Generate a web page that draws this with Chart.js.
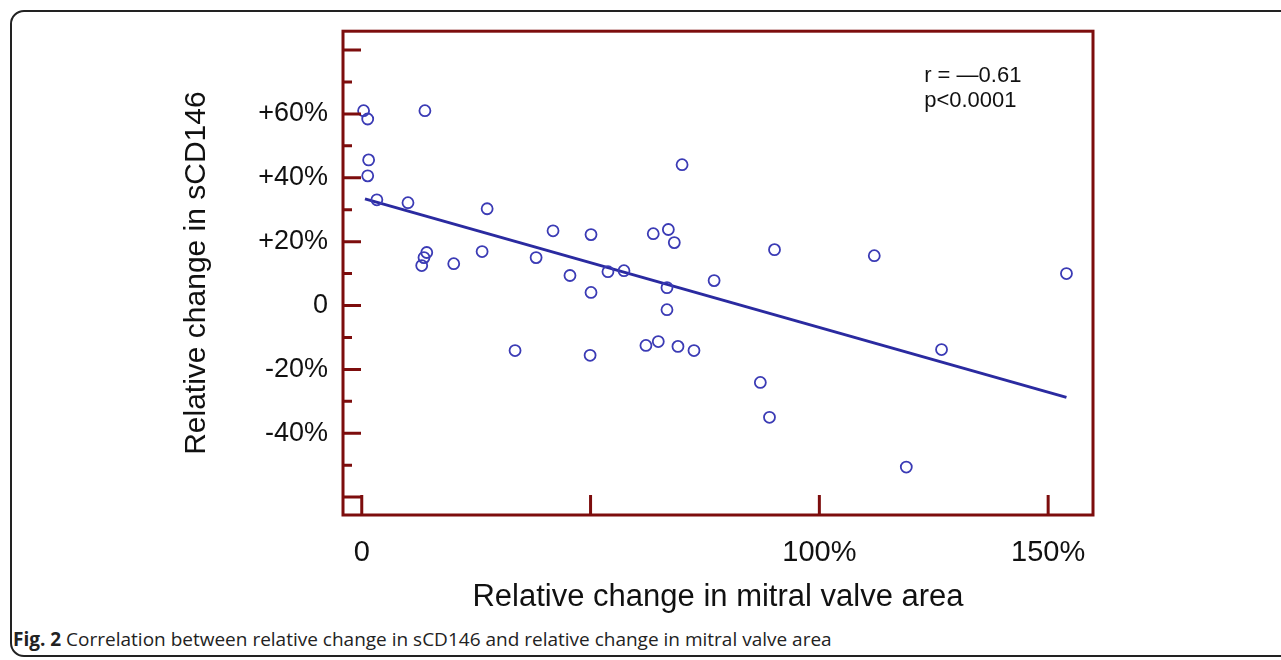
<!DOCTYPE html>
<html>
<head>
<meta charset="utf-8">
<script src="https://cdn.jsdelivr.net/npm/chart.js@4.4.1/dist/chart.umd.min.js"></script>
<style>
  html, body { margin: 0; padding: 0; background: #fff; overflow: hidden; }
  #frame {
    position: absolute; left: 10px; top: 10px; width: 1320px; height: 643px;
    border: 2px solid #222; border-radius: 14px;
  }
  #chartBox { position: absolute; left: 0; top: 0; width: 1281px; height: 620px; }
  #caption {
    position: absolute; left: 13px; top: 626px;
    font-family: "Open Sans", sans-serif; font-size: 19px; color: #222;
  }
</style>
</head>
<body>
<div id="frame"></div>
<div id="chartBox"><canvas id="corrChart" width="1281" height="620"></canvas></div>
<div id="caption"><b>Fig. 2</b> Correlation between relative change in sCD146 and relative change in mitral valve area</div>
<script>
// data (%)
const mvaChange = [0.4, 1.3, 1.5, 1.3, 3.3, 10.1, 13.8, 14.2, 13.6, 13.1, 20.1, 26.3, 27.4, 33.5, 38.1, 41.8, 45.5, 50.1, 50.1, 49.9,
  53.8, 57.3, 62.1, 63.7, 64.8, 67, 66.7, 66.7, 68.3, 69.1, 70, 72.6, 77, 87.1, 89.1, 90.2, 112, 119, 126.7, 154];
const cd146Change = [61, 58.4, 45.6, 40.6, 33.1, 32.2, 61, 16.6, 15, 12.5, 13.1, 16.9, 30.3, -14.1, 15, 23.4, 9.4, 22.2, 4.1, -15.6,
  10.6, 10.9, -12.5, 22.5, -11.3, 23.8, 5.6, -1.3, 19.7, -12.8, 44.1, -14.1, 7.8, -24.1, -35, 17.5, 15.6, -50.6, -13.8, 10];

const fitX = [0.7, 154];
const fitY = [33.4, -28.75];

const xTickValues = [0, 50, 100, 150];
const xTickLabels = ["0", "", "100%", "150%"];
const yTickValues = [-60, -40, -20, 0, 20, 40, 60, 80];
const yTickLabels = ["", "-40%", "-20%", "0", "+20%", "+40%", "+60%", ""];
const yMinorValues = [-50, -30, -10, 10, 30, 50, 70];

const statsText = ["r = \u20140.61", "p<0.0001"];
const statsPos = { x: 122.9, y: [72, 64] };

const axisRed = "#7d0d0d";
const dotBlue = "#3b3bb5";
const lineBlue = "#2a2aa0";

// frame + inward tick marks + r/p text
const plotDecor = {
  id: "plotDecor",
  afterDraw(chart) {
    const { ctx, chartArea: a, scales: { x, y } } = chart;
    ctx.save();
    ctx.strokeStyle = axisRed;
    ctx.lineWidth = 3;
    ctx.strokeRect(a.left, a.top, a.right - a.left, a.bottom - a.top);
    ctx.beginPath();
    yTickValues.forEach(v => {
      const py = y.getPixelForValue(v);
      ctx.moveTo(a.left, py); ctx.lineTo(a.left + 18, py);
    });
    yMinorValues.forEach(v => {
      const py = y.getPixelForValue(v);
      ctx.moveTo(a.left, py); ctx.lineTo(a.left + 9, py);
    });
    xTickValues.forEach(v => {
      const px = x.getPixelForValue(v);
      ctx.moveTo(px, a.bottom); ctx.lineTo(px, a.bottom - 20);
    });
    ctx.stroke();

    ctx.fillStyle = "#111";
    ctx.font = "22px 'Liberation Sans', Arial, sans-serif";
    ctx.textBaseline = "middle";
    ctx.textAlign = "left";
    statsText.forEach((t, i) => {
      ctx.fillText(t, x.getPixelForValue(statsPos.x), y.getPixelForValue(statsPos.y[i]));
    });
    ctx.restore();
  }
};

const ctx = document.getElementById("corrChart").getContext("2d");

new Chart(ctx, {
  type: "scatter",
  data: {
    datasets: [
      {
        label: "patients",
        data: mvaChange.map((v, i) => ({ x: v, y: cd146Change[i] })),
        pointStyle: "circle",
        pointRadius: 5.5,
        pointBorderWidth: 1.8,
        pointBorderColor: dotBlue,
        pointBackgroundColor: "rgba(255,255,255,0)"
      },
      {
        label: "fit",
        type: "line",
        data: fitX.map((v, i) => ({ x: v, y: fitY[i] })),
        borderColor: lineBlue,
        borderWidth: 3,
        pointRadius: 0,
        fill: false
      }
    ]
  },
  options: {
    responsive: false,
    animation: false,
    layout: { padding: { left: 160, top: 30, right: 188, bottom: 0 } },
    plugins: {
      legend: { display: false },
      tooltip: { enabled: false }
    },
    scales: {
      x: {
        type: "linear",
        min: -4.1,
        max: 159.8,
        grid: { display: false, drawTicks: false },
        border: { display: false },
        afterBuildTicks: s => { s.ticks = xTickValues.map(v => ({ value: v })); },
        afterFit: s => { s.height = 105; },
        ticks: {
          autoSkip: false,
          maxRotation: 0,
          padding: 21,
          color: "#111",
          font: { family: "'Liberation Sans', Arial, sans-serif", size: 29 },
          callback: (v) => xTickLabels[xTickValues.indexOf(v)]
        },
        title: {
          display: true,
          text: "Relative change in mitral valve area",
          color: "#111",
          font: { family: "'Liberation Sans', Arial, sans-serif", size: 31 },
          padding: { top: 0, bottom: 4 }
        }
      },
      y: {
        type: "linear",
        min: -65.6,
        max: 85.9,
        grid: { display: false, drawTicks: false },
        border: { display: false },
        afterBuildTicks: s => { s.ticks = yTickValues.map(v => ({ value: v })); },
        afterFit: s => { s.width = 343 - 160; },
        ticks: {
          autoSkip: false,
          padding: 15,
          color: "#111",
          font: { family: "'Liberation Sans', Arial, sans-serif", size: 27 },
          callback: (v) => yTickLabels[yTickValues.indexOf(v)]
        },
        title: {
          display: true,
          text: "Relative change in sCD146",
          color: "#111",
          font: { family: "'Liberation Sans', Arial, sans-serif", size: 30 },
          padding: { top: 19, bottom: 0 }
        }
      }
    }
  },
  plugins: [plotDecor]
});
</script>
</body>
</html>
